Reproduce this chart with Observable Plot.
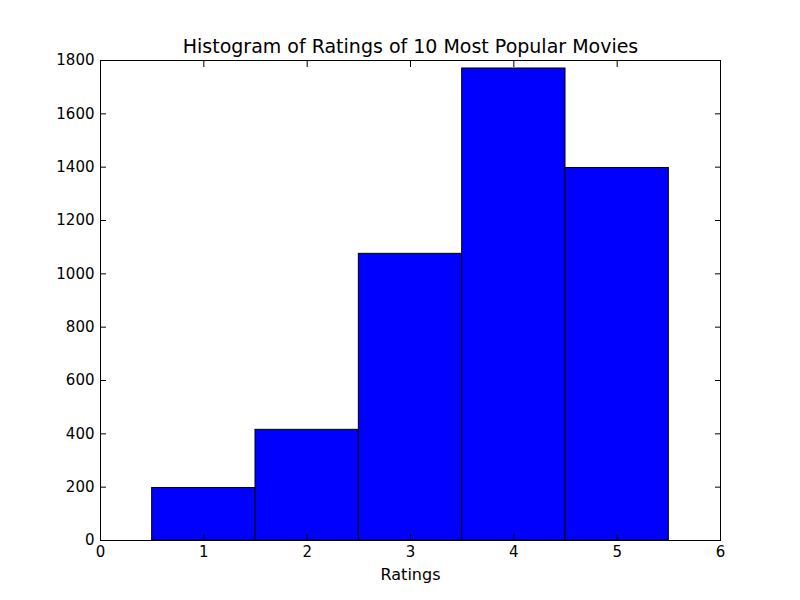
<!DOCTYPE html>
<html><head><meta charset="utf-8">
<script src="https://cdn.jsdelivr.net/npm/d3@7"></script>
<script src="https://cdn.jsdelivr.net/npm/@observablehq/plot@0.6"></script>
<style>body{margin:0;background:#fff;font-family:"DejaVu Sans",sans-serif}</style>
</head><body><div id="c"></div>
<script>
const ratings = [1, 2, 3, 4, 5];
const counts = [197, 415, 1075, 1770, 1397];
const xTicks = [0, 1, 2, 3, 4, 5, 6];
const yTicks = [0, 200, 400, 600, 800, 1000, 1200, 1400, 1600, 1800];
const data = ratings.map((r, i) => ({x1: r - 0.5, x2: r + 0.5, y: counts[i]}));
const plot = Plot.plot({
  width: 800, height: 600,
  marginLeft: 100, marginRight: 80, marginTop: 60, marginBottom: 60,
  style: {fontFamily: "DejaVu Sans", fontSize: "15px", color: "#000", background: "#fff"},
  x: {domain: [0, 6]},
  y: {domain: [0, 1800]},
  marks: [
    Plot.rectY(data, {x1: "x1", x2: "x2", y: "y", fill: "#0000ff", stroke: "#000", strokeWidth: 1}),
    Plot.axisX({ticks: xTicks, tickSize: -6, tickFormat: d => `${d}`, label: null, tickPadding: 12}),
    Plot.axisX({anchor: "top", ticks: xTicks, tickSize: -6, tickFormat: () => "", label: null}),
    Plot.axisY({ticks: yTicks, tickSize: -6, tickFormat: d => `${d}`, label: null, tickPadding: 12}),
    Plot.axisY({anchor: "right", ticks: yTicks, tickSize: -6, tickFormat: () => "", label: null}),
    Plot.frame({stroke: "#000"}),
    Plot.text(["Histogram of Ratings of 10 Most Popular Movies"], {frameAnchor: "top", dy: -8, fontSize: 19, lineAnchor: "bottom"}),
    Plot.text(["Ratings"], {frameAnchor: "bottom", dy: 39, fontSize: 16})
  ]
});
document.getElementById("c").append(plot);
</script></body></html>
